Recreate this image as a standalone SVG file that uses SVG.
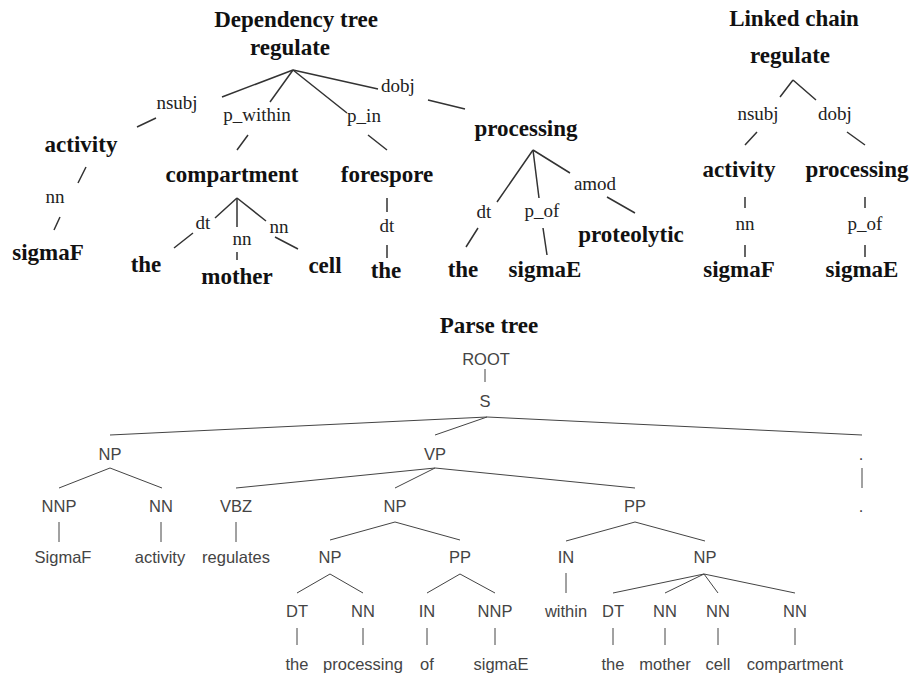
<svg xmlns="http://www.w3.org/2000/svg" width="912" height="675" viewBox="0 0 912 675">
<style>
.title{font-family:"Liberation Serif",serif;font-weight:bold;font-size:23px;fill:#111;text-anchor:middle}
.w{font-family:"Liberation Serif",serif;font-weight:bold;font-size:23px;fill:#111;text-anchor:middle}
.lab{font-family:"Liberation Serif",serif;font-size:19px;fill:#222;text-anchor:middle}
.p{font-family:"Liberation Sans",Arial,sans-serif;font-size:16.5px;fill:#444;text-anchor:middle}
.dl{stroke:#333;stroke-width:1.5;fill:none}
.pl{stroke:#444;stroke-width:1;fill:none}
</style>
<rect width="912" height="675" fill="#fff"/>

<g id="titles">
<text class="title" x="296" y="27">Dependency tree</text>
<text class="title" x="794" y="26">Linked chain</text>
<text class="title" x="489" y="333">Parse tree</text>
</g>

<g id="connectors">
<g class="dl">
<path d="M293 70L222 97M156 118L137 127"/>
<path d="M293 70L270 102M248 135L237 150"/>
<path d="M293 70L347 113M368 135L387 150"/>
<path d="M293 70L378 89M428 100L465 109"/>
<path d="M86 167L78 183M60 217L54 230"/>
<path d="M237 198L215 218M193 233L174 248"/>
<path d="M237 198L237 227M237 252L237 260"/>
<path d="M237 198L266 221M275 237L298 249"/>
<path d="M387 198L387 212M387 245L387 258"/>
<path d="M533 150L497 202M478 228L466 247"/>
<path d="M533 150L539 198M543 228L547 255"/>
<path d="M533 150L570 173M607 197L635 213"/>
<path d="M793 80L780 97M793 80L816 100"/>
<path d="M757 132L745 145M847 132L865 145"/>
<path d="M745 197L745 208M745 245L745 257"/>
<path d="M865 197L865 208M865 245L865 257"/>
</g>
<g class="pl">
<path d="M485 369L485 382"/>
<path d="M487 417L110 435M487 417L435 435M487 417L862 435"/>
<path d="M862 468L862 488"/>
<path d="M110 468L59 488M110 468L162 488"/>
<path d="M435 468L236 488M435 468L395 488M435 468L635 488"/>
<path d="M59 522L59 542M161 522L161 542M236 522L236 542"/>
<path d="M395 522L330 540M395 522L460 540"/>
<path d="M635 522L566 541M635 522L705 541"/>
<path d="M330 574L297 593M330 574L363 593"/>
<path d="M460 574L427 593M460 574L495 593"/>
<path d="M566 573L566 593"/>
<path d="M704 574L613 593M704 574L665 593M704 574L718 593M704 574L795 593"/>
<path d="M297 628L297 645M363 628L363 645M427 628L427 645M495 628L495 645M613 628L613 645M665 628L665 645M718 628L718 645M795 628L795 645"/>
</g>
</g>

<g id="dep-regulate"><text class="w" x="290" y="55">regulate</text></g>
<g id="dep-nsubj"><text class="lab" x="177" y="109">nsubj</text></g>
<g id="dep-activity"><text class="w" x="81" y="152">activity</text></g>
<g id="dep-nn1"><text class="lab" x="55" y="203">nn</text></g>
<g id="dep-sigmaF"><text class="w" x="48" y="260">sigmaF</text></g>
<g id="dep-p_within"><text class="lab" x="257" y="121">p_within</text></g>
<g id="dep-compartment"><text class="w" x="232" y="182">compartment</text></g>
<g id="dep-dt1"><text class="lab" x="203" y="229">dt</text></g>
<g id="dep-nn2"><text class="lab" x="242" y="245">nn</text></g>
<g id="dep-nn3"><text class="lab" x="279" y="233">nn</text></g>
<g id="dep-the1"><text class="w" x="146" y="272">the</text></g>
<g id="dep-mother"><text class="w" x="237" y="284">mother</text></g>
<g id="dep-cell"><text class="w" x="325" y="273">cell</text></g>
<g id="dep-p_in"><text class="lab" x="364" y="122">p_in</text></g>
<g id="dep-forespore"><text class="w" x="387" y="182">forespore</text></g>
<g id="dep-dt2"><text class="lab" x="387" y="232">dt</text></g>
<g id="dep-the2"><text class="w" x="386" y="278">the</text></g>
<g id="dep-dobj"><text class="lab" x="398" y="92">dobj</text></g>
<g id="dep-processing"><text class="w" x="526" y="136">processing</text></g>
<g id="dep-dt3"><text class="lab" x="484" y="218">dt</text></g>
<g id="dep-p_of"><text class="lab" x="542" y="217">p_of</text></g>
<g id="dep-amod"><text class="lab" x="595" y="190">amod</text></g>
<g id="dep-the3"><text class="w" x="463" y="277">the</text></g>
<g id="dep-sigmaE"><text class="w" x="545" y="277">sigmaE</text></g>
<g id="dep-proteolytic"><text class="w" x="631" y="242">proteolytic</text></g>

<g id="lc-regulate"><text class="w" x="790" y="63">regulate</text></g>
<g id="lc-nsubj"><text class="lab" x="758" y="120">nsubj</text></g>
<g id="lc-dobj"><text class="lab" x="835" y="120">dobj</text></g>
<g id="lc-activity"><text class="w" x="739" y="177">activity</text></g>
<g id="lc-processing"><text class="w" x="857" y="177">processing</text></g>
<g id="lc-nn"><text class="lab" x="745" y="230">nn</text></g>
<g id="lc-p_of"><text class="lab" x="865" y="230">p_of</text></g>
<g id="lc-sigmaF"><text class="w" x="739" y="277">sigmaF</text></g>
<g id="lc-sigmaE"><text class="w" x="862" y="277">sigmaE</text></g>

<g id="pt-ROOT"><text class="p" x="486" y="365">ROOT</text></g>
<g id="pt-S"><text class="p" x="485" y="407">S</text></g>
<g id="pt-NP1"><text class="p" x="110" y="460">NP</text></g>
<g id="pt-VP"><text class="p" x="435" y="460">VP</text></g>
<g id="pt-dot-tag"><text class="p" x="861" y="460">.</text></g>
<g id="pt-NNP1"><text class="p" x="59" y="512">NNP</text></g>
<g id="pt-NN1"><text class="p" x="161" y="512">NN</text></g>
<g id="pt-VBZ"><text class="p" x="236" y="512">VBZ</text></g>
<g id="pt-NP2"><text class="p" x="395" y="512">NP</text></g>
<g id="pt-PP1"><text class="p" x="635" y="512">PP</text></g>
<g id="pt-dot"><text class="p" x="861" y="512">.</text></g>
<g id="pt-SigmaF"><text class="p" x="63" y="563">SigmaF</text></g>
<g id="pt-activity"><text class="p" x="160" y="563">activity</text></g>
<g id="pt-regulates"><text class="p" x="236" y="563">regulates</text></g>
<g id="pt-NP3"><text class="p" x="330" y="563">NP</text></g>
<g id="pt-PP2"><text class="p" x="460" y="563">PP</text></g>
<g id="pt-IN1"><text class="p" x="566" y="563">IN</text></g>
<g id="pt-NP4"><text class="p" x="705" y="563">NP</text></g>
<g id="pt-DT1"><text class="p" x="297" y="617">DT</text></g>
<g id="pt-NN2"><text class="p" x="363" y="617">NN</text></g>
<g id="pt-IN2"><text class="p" x="427" y="617">IN</text></g>
<g id="pt-NNP2"><text class="p" x="495" y="617">NNP</text></g>
<g id="pt-within"><text class="p" x="566" y="617">within</text></g>
<g id="pt-DT2"><text class="p" x="613" y="617">DT</text></g>
<g id="pt-NN3"><text class="p" x="665" y="617">NN</text></g>
<g id="pt-NN4"><text class="p" x="718" y="617">NN</text></g>
<g id="pt-NN5"><text class="p" x="795" y="617">NN</text></g>
<g id="pt-the1"><text class="p" x="297" y="670">the</text></g>
<g id="pt-processing"><text class="p" x="363" y="670">processing</text></g>
<g id="pt-of"><text class="p" x="427" y="670">of</text></g>
<g id="pt-sigmaE"><text class="p" x="501" y="670">sigmaE</text></g>
<g id="pt-the2"><text class="p" x="613" y="670">the</text></g>
<g id="pt-mother"><text class="p" x="665" y="670">mother</text></g>
<g id="pt-cell"><text class="p" x="718" y="670">cell</text></g>
<g id="pt-compartment"><text class="p" x="795" y="670">compartment</text></g>
</svg>
